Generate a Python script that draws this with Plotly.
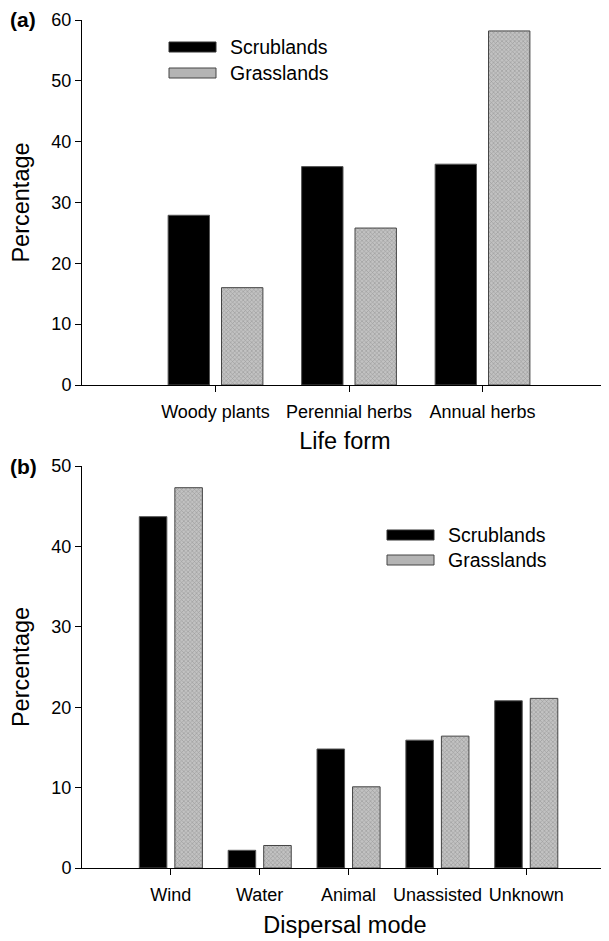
import plotly.graph_objects as go

# ---- data ----
life_forms = ["Woody plants", "Perennial herbs", "Annual herbs"]
life_scrub = [27.9, 35.9, 36.3]
life_grass = [16.0, 25.8, 58.2]

dispersal_modes = ["Wind", "Water", "Animal", "Unassisted", "Unknown"]
disp_scrub = [43.7, 2.2, 14.8, 15.9, 20.8]
disp_grass = [47.3, 2.8, 10.1, 16.4, 21.1]

series_names = ["Scrublands", "Grasslands"]

FONT = "Liberation Sans, Arial, sans-serif"
WIN_W, WIN_H = 609, 941
OFF = 8                      # page body margin in the browser
W, H = WIN_W - OFF, WIN_H - OFF


def px(x):
    """screen x pixel -> paper fraction"""
    return (x - OFF) / W


def py(y):
    """screen y pixel (from top) -> paper fraction"""
    return 1 - (y - OFF) / H


BLACK = "black"
GRAY_BG = "#c2c2c2"
GRAY_FG = "#707070"

fig = go.Figure()

black_style = dict(marker=dict(color=BLACK, line=dict(color="#555555", width=1)))
grass_style = dict(marker=dict(color="#b0b0b0",
                               line=dict(color="#444444", width=1),
                               pattern=dict(shape="x", size=3, solidity=0.35,
                                            fgcolor=GRAY_FG, bgcolor=GRAY_BG)))

# panel (a)
fig.add_trace(go.Bar(x=life_forms, y=life_scrub, name=series_names[0], xaxis="x", yaxis="y",
                     width=0.31, offset=-0.355, showlegend=False, **black_style))
fig.add_trace(go.Bar(x=life_forms, y=life_grass, name=series_names[1], xaxis="x", yaxis="y",
                     width=0.31, offset=0.045, showlegend=False, **grass_style))
# panel (b)
fig.add_trace(go.Bar(x=dispersal_modes, y=disp_scrub, name=series_names[0], xaxis="x2", yaxis="y2",
                     width=0.31, offset=-0.355, showlegend=False, **black_style))
fig.add_trace(go.Bar(x=dispersal_modes, y=disp_grass, name=series_names[1], xaxis="x2", yaxis="y2",
                     width=0.31, offset=0.045, showlegend=False, **grass_style))

x_dom = [px(82), min(1.0, px(608))]
ya = [py(385), py(20)]
yb = [py(868), py(466)]

common_x = dict(showline=True, linecolor="black", linewidth=1, ticks="outside", ticklen=6,
                tickcolor="black", showgrid=False, zeroline=False, automargin=False,
                ticklabelstandoff=4,
                tickfont=dict(family=FONT, size=18, color="black"), fixedrange=True)
common_y = dict(showline=True, linecolor="black", linewidth=1, ticks="outside", ticklen=6,
                tickcolor="black", showgrid=False, zeroline=False, automargin=False,
                tickfont=dict(family=FONT, size=18, color="black"), fixedrange=True)

TITLE_FONT = dict(size=23.5, family=FONT, color="black")

# custom legend (wide swatches like the original), in paper coordinates
shapes = []
annotations = []
legend_specs = [
    # (swatch left px, swatch right px, text left px, row centres px)
    (169, 216, 228, (47, 73)),
    (387, 434, 446, (535, 560)),
]
for sx0, sx1, tx, rows in legend_specs:
    for name, yc, fill, line in zip(series_names, rows, [BLACK, "#b4b4b4"], ["#333333", "#444444"]):
        shapes.append(dict(type="rect", xref="paper", yref="paper",
                           x0=px(sx0), x1=px(sx1), y0=py(yc + 5), y1=py(yc - 5),
                           fillcolor=fill, line=dict(color=line, width=1)))
        annotations.append(dict(text=name, x=px(tx), y=py(yc), xref="paper", yref="paper",
                                xanchor="left", yanchor="middle", showarrow=False,
                                font=dict(size=19.5, family=FONT, color="black")))

annotations += [
    dict(text="<b>(a)</b>", x=px(8), y=py(20), xref="paper", yref="paper",
         xanchor="left", yanchor="middle", showarrow=False, font=dict(size=21, family=FONT, color="black")),
    dict(text="<b>(b)</b>", x=px(8), y=py(466), xref="paper", yref="paper",
         xanchor="left", yanchor="middle", showarrow=False, font=dict(size=21, family=FONT, color="black")),
]

fig.update_layout(
    width=W, height=H,
    margin=dict(l=0, r=0, t=0, b=0, pad=0),
    paper_bgcolor="white", plot_bgcolor="white",
    font=dict(family=FONT, color="black"),
    xaxis=dict(domain=x_dom, anchor="y", range=[-1, 2.94], type="category",
               title=dict(text="Life form", font=TITLE_FONT, standoff=11),
               **common_x),
    yaxis=dict(domain=ya, anchor="x", range=[0, 60], tickvals=[0, 10, 20, 30, 40, 50, 60],
               title=dict(text="Percentage", font=TITLE_FONT, standoff=22),
               **common_y),
    xaxis2=dict(domain=x_dom, anchor="y2", range=[-1, 4.92], type="category",
                title=dict(text="Dispersal mode", font=TITLE_FONT, standoff=12),
                **common_x),
    yaxis2=dict(domain=yb, anchor="x2", range=[0, 50], tickvals=[0, 10, 20, 30, 40, 50],
                title=dict(text="Percentage", font=TITLE_FONT, standoff=22),
                **common_y),
    shapes=shapes,
    annotations=annotations,
    showlegend=False,
)

fig.write_html("out.html")
